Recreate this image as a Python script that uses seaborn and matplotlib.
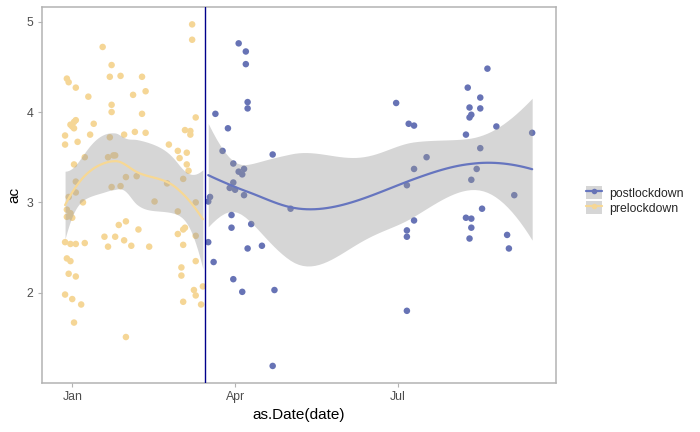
import numpy as np
import pandas as pd
import matplotlib
matplotlib.use('Agg')
import matplotlib.pyplot as plt
import matplotlib.dates as mdates
from matplotlib.patches import Patch
from matplotlib.lines import Line2D
import seaborn as sns

# prelockdown
pre_dates = ['2020-03-08', '2020-03-08', '2020-01-18', '2020-01-23', '2019-12-29', '2019-12-30',
             '2020-01-22', '2020-01-28', '2020-02-09', '2020-01-03', '2020-01-10', '2020-02-04',
             '2020-02-11', '2020-01-23', '2020-01-23', '2020-02-09', '2020-03-10', '2020-01-03',
             '2020-01-02', '2019-12-31', '2020-01-01', '2020-01-02', '2020-01-13', '2019-12-28',
             '2020-01-11', '2020-01-22', '2020-01-30', '2020-02-05', '2020-02-11', '2020-03-04',
             '2020-03-07', '2020-03-07', '2019-12-28', '2020-01-04', '2020-02-24', '2020-02-29',
             '2020-03-05', '2020-03-01', '2020-01-08', '2020-01-21', '2020-01-24', '2020-01-25',
             '2020-01-02', '2020-03-05', '2020-03-06', '2020-01-31', '2020-02-06', '2020-03-03',
             '2020-01-03', '2020-02-23', '2020-01-23', '2020-01-28', '2020-01-03', '2019-12-30',
             '2020-01-07', '2020-02-16', '2020-03-10', '2019-12-29', '2019-12-31', '2019-12-29',
             '2020-01-01', '2020-02-29', '2020-01-27', '2020-01-31', '2020-02-07', '2020-02-29',
             '2020-03-03', '2020-03-04', '2020-03-10', '2020-01-19', '2020-01-25', '2019-12-28',
             '2019-12-31', '2020-01-03', '2020-01-08', '2020-01-21', '2020-01-30', '2020-02-03',
             '2020-02-13', '2020-03-03', '2019-12-29', '2019-12-31', '2020-03-10', '2019-12-30',
             '2020-01-03', '2020-03-02', '2020-03-02', '2020-03-14', '2019-12-28', '2020-01-01',
             '2020-01-06', '2020-03-09', '2020-03-10', '2020-03-03', '2020-03-13', '2020-01-02',
             '2020-01-31']
pre_ac = [4.97, 4.80, 4.72, 4.52, 4.37, 4.33, 4.39, 4.40, 4.39, 4.27, 4.17, 4.19,
          4.23, 4.08, 4.00, 3.98, 3.94, 3.91, 3.89, 3.86, 3.84, 3.82, 3.87, 3.74,
          3.75, 3.72, 3.75, 3.78, 3.77, 3.80, 3.79, 3.75, 3.64, 3.67, 3.64, 3.57,
          3.55, 3.49, 3.50, 3.50, 3.52, 3.52, 3.42, 3.42, 3.35, 3.28, 3.29, 3.26,
          3.23, 3.21, 3.17, 3.18, 3.11, 3.06, 3.00, 3.01, 3.00, 2.92, 2.88, 2.84,
          2.83, 2.90, 2.75, 2.79, 2.70, 2.65, 2.70, 2.72, 2.63, 2.62, 2.62, 2.56,
          2.54, 2.54, 2.55, 2.51, 2.58, 2.52, 2.51, 2.53, 2.38, 2.35, 2.35, 2.21,
          2.18, 2.28, 2.19, 2.07, 1.98, 1.93, 1.87, 2.03, 1.97, 1.90, 1.87, 1.67,
          1.51]

# postlockdown
post_dates = ['2020-04-03', '2020-04-07', '2020-04-07', '2020-04-08', '2020-04-08', '2020-03-21',
              '2020-03-28', '2020-03-25', '2020-04-22', '2020-03-31', '2020-04-03', '2020-04-06',
              '2020-04-05', '2020-03-31', '2020-03-29', '2020-04-01', '2020-04-06', '2020-03-18',
              '2020-03-17', '2020-05-02', '2020-03-30', '2020-04-10', '2020-03-30', '2020-03-17',
              '2020-04-08', '2020-04-16', '2020-03-20', '2020-03-31', '2020-04-05', '2020-04-23',
              '2020-04-22', '2020-08-20', '2020-08-09', '2020-06-30', '2020-08-16', '2020-08-10',
              '2020-08-16', '2020-08-11', '2020-08-10', '2020-07-07', '2020-07-10', '2020-08-25',
              '2020-08-08', '2020-09-14', '2020-08-16', '2020-07-17', '2020-07-10', '2020-08-14',
              '2020-08-11', '2020-07-06', '2020-09-04', '2020-08-17', '2020-07-10', '2020-08-08',
              '2020-08-11', '2020-08-11', '2020-07-06', '2020-07-06', '2020-08-10', '2020-08-31',
              '2020-09-01', '2020-07-06']
post_ac = [4.76, 4.67, 4.53, 4.11, 4.04, 3.98, 3.82, 3.57, 3.53, 3.43, 3.34, 3.37,
           3.31, 3.22, 3.16, 3.14, 3.08, 3.06, 3.01, 2.93, 2.86, 2.76, 2.72, 2.56,
           2.49, 2.52, 2.34, 2.15, 2.01, 2.03, 1.19, 4.48, 4.27, 4.10, 4.16, 4.05,
           4.04, 3.97, 3.94, 3.87, 3.85, 3.84, 3.75, 3.77, 3.60, 3.50, 3.37, 3.37,
           3.25, 3.19, 3.08, 2.93, 2.80, 2.83, 2.82, 2.72, 2.69, 2.62, 2.60, 2.64,
           2.49, 1.80]

lockdown = '2020-03-15'
groups = ['postlockdown', 'prelockdown']
palette = {'postlockdown': '#6773B5', 'prelockdown': '#F5D696'}
line_cols = {'postlockdown': '#6675BF', 'prelockdown': '#F7D894'}

df = pd.concat([
    pd.DataFrame({'date': pd.to_datetime(post_dates), 'ac': post_ac, 'period': 'postlockdown'}),
    pd.DataFrame({'date': pd.to_datetime(pre_dates), 'ac': pre_ac, 'period': 'prelockdown'}),
], ignore_index=True)
df['x'] = mdates.date2num(df['date'])


def loess(x, y, grid, span=0.75, cell=0.2):
    # R-style loess: local quadratic at kd-tree vertices + cubic Hermite interpolation
    n = len(x)
    q = int(np.floor(n * span))
    xs = np.sort(x)

    def local(x0):
        d = np.abs(x - x0)
        h = np.sort(d)[q - 1]
        w = np.clip(1 - (d / h) ** 3, 0, None) ** 3
        X = np.column_stack([np.ones(n), x - x0, (x - x0) ** 2])
        XtW = X.T * w
        B = np.linalg.solve(XtW @ X, XtW)
        return B[0], B[1]

    fc = int(np.floor(n * span * cell))
    mu = 0.005 * (xs[-1] - xs[0])
    verts = {xs[0] - mu, xs[-1] + mu}

    def split(l, u, lo_v, hi_v):
        if u - l + 1 <= fc:
            return
        m = (l + u) // 2
        off = 0
        while l <= m + off < u:
            if xs[m + off] == xs[m + off + 1]:
                off = -off
                if off >= 0:
                    off += 1
            else:
                m = m + off
                break
        v = xs[m]
        if v == lo_v or v == hi_v:
            return
        verts.add(v)
        split(l, m, lo_v, v)
        split(m + 1, u, v, hi_v)

    split(0, n - 1, xs[0] - mu, xs[-1] + mu)
    V = np.array(sorted(verts))
    vals, slopes = zip(*[local(v) for v in V])
    vals, slopes = np.array(vals), np.array(slopes)

    def rows(pts):
        out = np.zeros((len(pts), n))
        for i, z in enumerate(pts):
            j = min(np.searchsorted(V, z, side='right') - 1, len(V) - 2)
            h = V[j + 1] - V[j]
            t = (z - V[j]) / h
            h00 = 2 * t ** 3 - 3 * t ** 2 + 1
            h10 = t ** 3 - 2 * t ** 2 + t
            h01 = -2 * t ** 3 + 3 * t ** 2
            h11 = t ** 3 - t ** 2
            out[i] = (h00 * vals[j] + h10 * h * slopes[j]
                      + h01 * vals[j + 1] + h11 * h * slopes[j + 1])
        return out

    L = rows(x)
    M = np.eye(n) - L
    MM = M.T @ M
    d1 = np.trace(MM)
    d2 = np.trace(MM @ MM)
    sigma = np.sqrt(np.sum((M @ y) ** 2) / d1)
    df_ = d1 ** 2 / d2
    z = 1.959964
    t = z + (z ** 3 + z) / (4 * df_) + (5 * z ** 5 + 16 * z ** 3 + 3 * z) / (96 * df_ ** 2)
    G = rows(grid)
    fit = G @ y
    se = sigma * np.sqrt(np.sum(G ** 2, axis=1))
    return fit, fit - t * se, fit + t * se


sns.set_style('white')
plt.rcParams['font.family'] = ['Liberation Sans', 'DejaVu Sans']

fig = plt.figure(figsize=(7, 4.32), dpi=100)
ax = fig.add_axes([0.0596, 0.1134, 0.734, 0.8697])

sns.scatterplot(data=df, x='x', y='ac', hue='period', palette=palette, s=22,
                edgecolor='none', legend=False, ax=ax, zorder=2)

for g in groups:
    sub = df[df['period'] == g]
    xs = sub['x'].to_numpy()
    ys = sub['ac'].to_numpy()
    grid = np.linspace(xs.min(), xs.max(), 80)
    fit, lo, hi = loess(xs, ys, grid)
    ax.fill_between(grid, lo, hi, color='#999999', alpha=0.4, linewidth=0, zorder=3)
    ax.plot(grid, fit, color=line_cols[g], lw=1.6, zorder=4)

ax.axvline(mdates.date2num(pd.Timestamp(lockdown)), color='#00008B', lw=1, zorder=5)

xmin, xmax = df['x'].min(), df['x'].max()
ymin, ymax = df['ac'].min(), df['ac'].max()
ax.set_xlim(xmin - 0.05 * (xmax - xmin), xmax + 0.05 * (xmax - xmin))
ax.set_ylim(ymin - 0.05 * (ymax - ymin), ymax + 0.05 * (ymax - ymin))

ax.xaxis.set_major_locator(mdates.MonthLocator(bymonth=[1, 4, 7]))
ax.xaxis.set_major_formatter(mdates.DateFormatter('%b'))
ax.set_yticks([2, 3, 4, 5])
ax.tick_params(axis='both', which='major', length=3, width=0.8, color='#B3B3B3',
               labelcolor='#4D4D4D', labelsize=8.8, pad=3)
ax.tick_params(axis='both', bottom=True, left=True)
for sp in ax.spines.values():
    sp.set_color('#B3B3B3')
    sp.set_linewidth(1.1)
ax.grid(False)
ax.set_xlabel('as.Date(date)', fontsize=11, color='black', labelpad=3)
ax.set_ylabel('ac', fontsize=11, color='black', labelpad=4)

handles = [(Patch(facecolor='#D6D6D6', edgecolor='none'),
            Line2D([], [], color=line_cols[g], lw=1.6, marker='o', markersize=4,
                   markerfacecolor=palette[g], markeredgecolor='none'))
           for g in groups]
fig.legend(handles, groups, loc='center left', bbox_to_anchor=(0.828, 0.536),
           frameon=False, fontsize=8.8, handlelength=1.3, handleheight=1.3,
           handletextpad=0.6, labelspacing=0.1, borderpad=0)

fig.savefig('out.png', dpi=100)
